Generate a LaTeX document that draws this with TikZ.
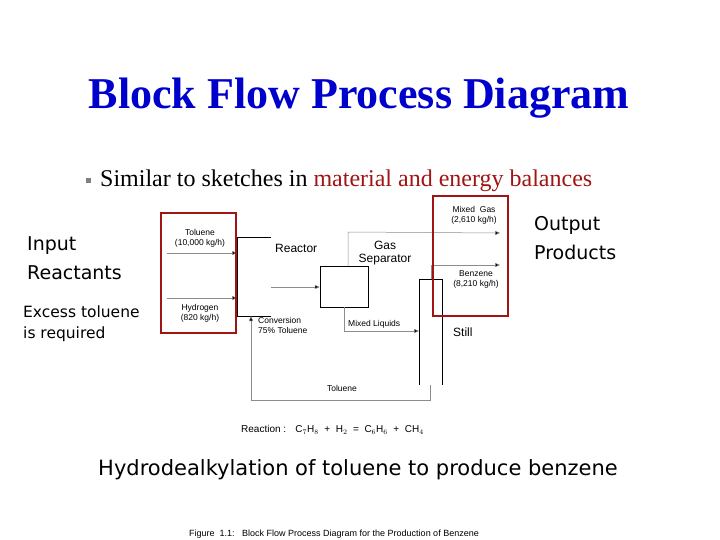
\documentclass[tikz,border=0pt]{standalone}
\usepackage{fontspec}
\setmainfont{Liberation Serif}
\setsansfont{DejaVu Sans}
\newfontfamily\figfont{Liberation Sans}
\usetikzlibrary{positioning}
\usetikzlibrary{shapes,arrows.meta}
\definecolor{titleblue}{RGB}{0,0,204}
\definecolor{boxred}{RGB}{160,20,20}
\definecolor{linegray}{RGB}{140,140,140}
\tikzset{
    unit/.style={rectangle,draw=black,line width=0.5pt,inner sep=0pt},
    stream/.style={draw=linegray,line width=0.5pt},
    flow/.style={stream,-{Triangle[length=5pt,width=4pt,fill=black]}},
    small/.style={font=\figfont\fontsize{8.5}{10}\selectfont,align=center,inner sep=0pt},
    mid/.style={font=\figfont\fontsize{12}{13}\selectfont,inner sep=0pt},
    note/.style={font=\sffamily\fontsize{19}{29}\selectfont,align=left,inner sep=0pt},
    redbox/.style={draw=boxred,line width=2.5pt}
}
\begin{document}
\begin{tikzpicture}[x=1pt,y=-1pt]
    \useasboundingbox (0,0) rectangle (720,540);
    \node[font=\bfseries\fontsize{44}{50}\selectfont,text=titleblue] (title) at (359,98) {Block Flow Process Diagram};
    \node[rectangle,fill=gray,minimum size=5pt,inner sep=0pt] (bullet) at (88,181) {};
    \node[anchor=west,font=\fontsize{24}{27}\selectfont,inner sep=0pt] (sub) at (100,181)
        {Similar to sketches in \textcolor{boxred}{material and energy balances}};
    %Units
    \draw[unit] (271,237) -- (237,237) -- (237,316) -- (271,316);
    \node[unit,minimum width=48pt,minimum height=41pt] (sep) at (344,286.5) {};
    \draw[unit] (419,385) -- (419,279) -- (442,279) -- (442,385);
    \coordinate (still) at (419,331);
    \node[mid,anchor=west] (lreac) at (275,248) {Reactor};
    \node[mid,align=center] (lsep) at (385,253) {Gas\\Separator};
    \node[mid,anchor=west] (lstill) at (453,332) {Still};
    %Feeds
    \coordinate (tolin) at (167,253);
    \coordinate (h2in) at (167,298);
    \draw[flow] (tolin) -- (237,253);
    \draw[flow] (h2in) -- (237,298);
    \node[small] (ltol) at (200,238) {Toluene\\(10,000 kg/h)};
    \node[small] (lh2) at (200,313) {Hydrogen\\(820 kg/h)};
    %Streams
    \draw[flow] (271,287) -- (sep.west |- 0,287);
    \coordinate (gasout) at (500,233);
    \coordinate (bzout) at (500,265);
    \draw[flow] (348,266) -- (348,232) -- (gasout);
    \draw[flow] (431,279) -- (431,265) -- (bzout);
    \draw[flow] (344,307) -- (344,331) -- (still);
    \draw[flow] (430,385) -- (430,400) -- (251,400) -- (251,316);
    \node[small] (lgas) at (474,215) {Mixed~~Gas\\(2,610 kg/h)};
    \node[small] (lbz) at (476,279) {Benzene\\(8,210 kg/h)};
    \node[small,anchor=west] (lliq) at (348,324) {Mixed Liquids};
    \node[small,anchor=north west,align=left] (lconv) at (258,317) {Conversion\\75\% Toluene};
    \node[small] (lrec) at (342,388) {Toluene};
    \node[small,anchor=west,font=\figfont\fontsize{10}{11}\selectfont] (lreact) at (241,430) {Reaction :~~ C$_7$H$_8$ ~+~ H$_2$ ~=~ C$_6$H$_6$ ~+~ CH$_4$};
    %Highlights
    \draw[redbox] (161,213) rectangle (236,333);
    \draw[redbox] (433,196) rectangle (508,316);
    \node[note,anchor=west] (input) at (27,258) {Input\\Reactants};
    \node[note,anchor=west] (output) at (534,238) {Output\\Products};
    \node[anchor=west,font=\sffamily\fontsize{15.5}{21}\selectfont,align=left,inner sep=0pt] (excess) at (23,324) {Excess toluene\\is required};
    \node[font=\sffamily\fontsize{21}{24}\selectfont,inner sep=0pt] (hydro) at (358,470) {Hydrodealkylation of toluene to produce benzene};
    \node[small,font=\figfont\fontsize{9}{10}\selectfont] (caption) at (334,534) {Figure~~1.1:~~~Block Flow Process Diagram for the Production of Benzene};
\end{tikzpicture}
\end{document}
